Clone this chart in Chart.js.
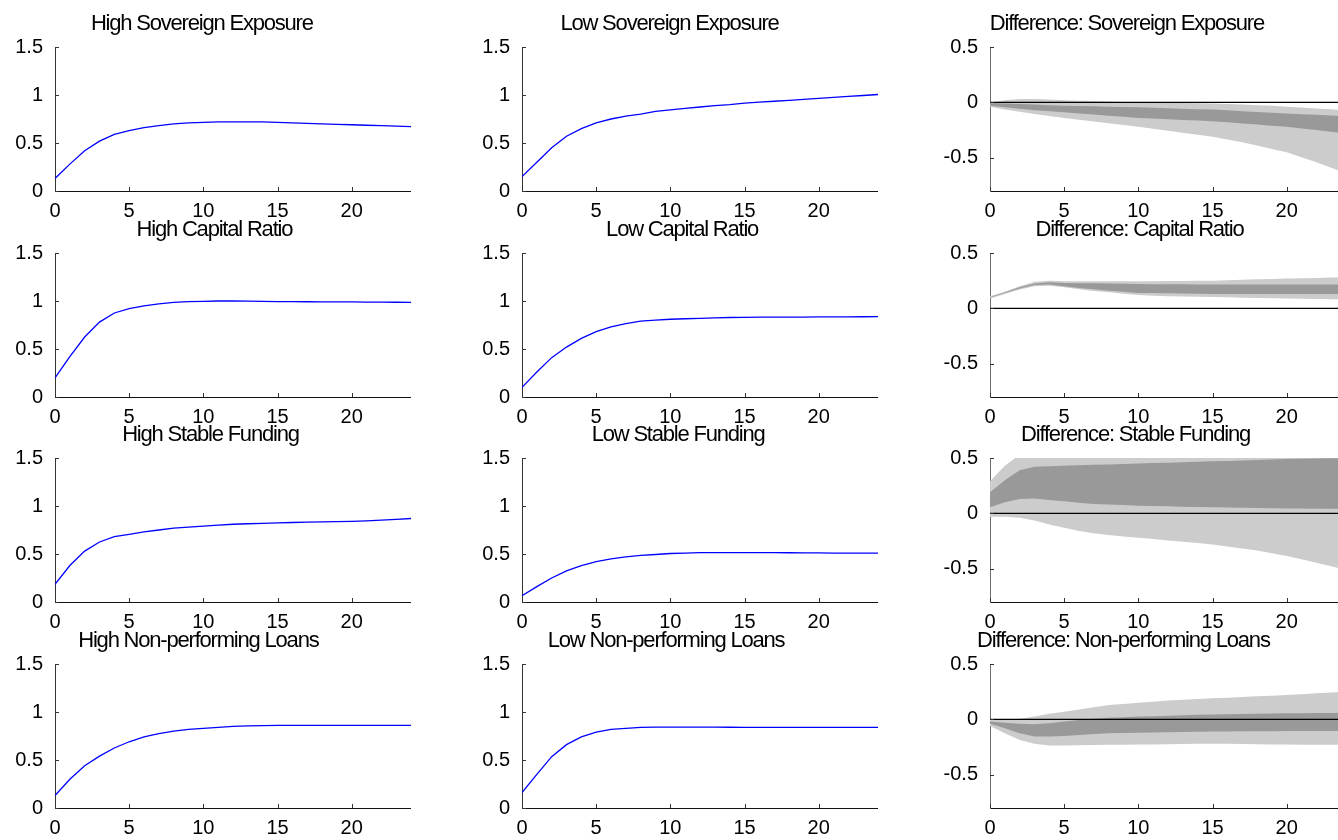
<!DOCTYPE html>
<html>
<head>
<meta charset="utf-8">
<script src="https://cdn.jsdelivr.net/npm/chart.js@4.4.1/dist/chart.umd.min.js"></script>
<style>
  html, body { margin: 0; padding: 0; background: #fff; overflow: hidden; }
  #fig { position: relative; width: 1338px; height: 840px; overflow: hidden; }
  #fig canvas { position: absolute; }
</style>
</head>
<body>
<div id="fig"></div>
<script>
// ── DATA ─────────────────────────────────────────────────────────
const steps  = [0,1,2,3,4,5,6,7,8,9,10,11,12,13,14,15,16,17,18,19,20,21,22,23,24];
const xTicks = [0, 5, 10, 15, 20];
const yTicksLevel = [0, 0.5, 1, 1.5];
const yTicksDiff  = [-0.5, 0, 0.5];

const titlesHigh = ["High Sovereign Exposure", "High Capital Ratio", "High Stable Funding", "High Non-performing Loans"];
const titlesLow  = ["Low Sovereign Exposure", "Low Capital Ratio", "Low Stable Funding", "Low Non-performing Loans"];
const titlesDiff = ["Difference: Sovereign Exposure", "Difference: Capital Ratio", "Difference: Stable Funding", "Difference: Non-performing Loans"];

// impulse responses, high group
const hiSov  = [0.13,0.28,0.42,0.52,0.59,0.63,0.66,0.68,0.70,0.71,0.715,0.72,0.72,0.72,0.72,0.715,0.71,0.705,0.70,0.695,0.69,0.685,0.68,0.675,0.67];
const hiCap  = [0.20,0.42,0.625,0.78,0.875,0.92,0.95,0.97,0.985,0.993,0.997,1.0,1.0,0.998,0.996,0.994,0.993,0.992,0.991,0.99,0.99,0.989,0.988,0.987,0.986];
const hiStab = [0.185,0.38,0.53,0.625,0.68,0.705,0.73,0.75,0.77,0.78,0.79,0.80,0.81,0.815,0.82,0.825,0.828,0.831,0.834,0.837,0.84,0.845,0.852,0.86,0.87];
const hiNpl  = [0.13,0.30,0.44,0.54,0.625,0.69,0.74,0.775,0.80,0.82,0.83,0.84,0.85,0.855,0.858,0.86,0.86,0.86,0.86,0.86,0.86,0.86,0.86,0.86,0.86];

// impulse responses, low group
const loSov  = [0.15,0.30,0.45,0.57,0.65,0.71,0.75,0.78,0.80,0.83,0.845,0.86,0.875,0.89,0.90,0.915,0.925,0.935,0.945,0.955,0.965,0.975,0.985,0.995,1.005];
const loCap  = [0.10,0.26,0.41,0.52,0.61,0.68,0.73,0.765,0.79,0.80,0.81,0.815,0.82,0.825,0.828,0.83,0.831,0.832,0.833,0.833,0.834,0.835,0.835,0.836,0.837];
const loStab = [0.066,0.16,0.25,0.325,0.38,0.42,0.45,0.47,0.485,0.495,0.505,0.51,0.515,0.515,0.515,0.515,0.515,0.514,0.513,0.512,0.511,0.51,0.51,0.51,0.51];
const loNpl  = [0.16,0.35,0.535,0.66,0.74,0.79,0.82,0.83,0.84,0.843,0.843,0.843,0.842,0.842,0.841,0.84,0.84,0.84,0.84,0.84,0.84,0.84,0.84,0.84,0.84];

// difference bands: outer hi / inner hi / inner lo / outer lo
const dSovOutHi = [0.0,0.02,0.03,0.03,0.025,0.02,0.015,0.012,0.008,0.004,0.0,-0.002,-0.004,-0.006,-0.008,-0.01,-0.015,-0.02,-0.025,-0.03,-0.04,-0.047,-0.055,-0.062,-0.07];
const dSovInHi  = [-0.005,-0.01,-0.015,-0.02,-0.025,-0.03,-0.033,-0.036,-0.039,-0.042,-0.045,-0.049,-0.053,-0.057,-0.061,-0.065,-0.072,-0.079,-0.086,-0.093,-0.10,-0.106,-0.112,-0.118,-0.125];
const dSovInLo  = [-0.03,-0.045,-0.058,-0.07,-0.08,-0.09,-0.10,-0.11,-0.12,-0.13,-0.14,-0.146,-0.152,-0.158,-0.164,-0.17,-0.18,-0.19,-0.20,-0.21,-0.22,-0.235,-0.25,-0.265,-0.28];
const dSovOutLo = [-0.04,-0.065,-0.085,-0.105,-0.123,-0.14,-0.156,-0.172,-0.188,-0.204,-0.22,-0.238,-0.256,-0.274,-0.292,-0.31,-0.335,-0.36,-0.39,-0.42,-0.45,-0.495,-0.54,-0.59,-0.64];

const dCapOutHi = [0.11,0.15,0.20,0.24,0.25,0.245,0.245,0.245,0.245,0.245,0.245,0.246,0.247,0.248,0.249,0.25,0.254,0.258,0.262,0.266,0.27,0.272,0.275,0.278,0.28];
const dCapInHi  = [0.10,0.145,0.19,0.225,0.235,0.23,0.228,0.226,0.224,0.222,0.22,0.219,0.218,0.217,0.216,0.215,0.215,0.215,0.215,0.215,0.215,0.215,0.215,0.215,0.215];
const dCapInLo  = [0.095,0.14,0.18,0.21,0.215,0.20,0.185,0.172,0.16,0.15,0.14,0.138,0.136,0.134,0.132,0.13,0.13,0.13,0.13,0.13,0.13,0.13,0.13,0.13,0.13];
const dCapOutLo = [0.09,0.13,0.17,0.20,0.205,0.19,0.172,0.158,0.145,0.132,0.12,0.115,0.11,0.107,0.105,0.103,0.10,0.097,0.094,0.092,0.09,0.087,0.085,0.082,0.08];

const dStabOutHi = [0.29,0.43,0.53,0.56,0.58,0.59,0.60,0.61,0.62,0.63,0.64,0.65,0.66,0.67,0.68,0.69,0.70,0.71,0.72,0.73,0.74,0.75,0.76,0.77,0.78];
const dStabInHi  = [0.19,0.30,0.39,0.42,0.425,0.43,0.434,0.438,0.442,0.446,0.45,0.454,0.458,0.462,0.466,0.47,0.474,0.478,0.482,0.486,0.49,0.493,0.496,0.498,0.50];
const dStabInLo  = [0.055,0.10,0.13,0.135,0.12,0.11,0.095,0.085,0.08,0.075,0.07,0.067,0.064,0.061,0.058,0.055,0.053,0.051,0.049,0.047,0.045,0.044,0.042,0.041,0.04];
const dStabOutLo = [-0.03,-0.03,-0.04,-0.065,-0.10,-0.13,-0.16,-0.18,-0.195,-0.208,-0.22,-0.232,-0.244,-0.256,-0.268,-0.28,-0.298,-0.316,-0.336,-0.36,-0.385,-0.415,-0.445,-0.478,-0.51];

const dNplOutHi = [0.0,0.002,0.005,0.025,0.05,0.07,0.09,0.11,0.13,0.14,0.15,0.16,0.17,0.177,0.184,0.19,0.196,0.202,0.208,0.214,0.22,0.227,0.235,0.242,0.25];
const dNplInHi  = [-0.02,-0.03,-0.04,-0.045,-0.035,-0.02,-0.005,0.005,0.015,0.02,0.025,0.029,0.033,0.037,0.041,0.045,0.047,0.049,0.051,0.053,0.055,0.056,0.057,0.058,0.06];
const dNplInLo  = [-0.04,-0.08,-0.125,-0.155,-0.155,-0.15,-0.14,-0.132,-0.125,-0.122,-0.12,-0.118,-0.116,-0.114,-0.112,-0.11,-0.109,-0.108,-0.107,-0.106,-0.105,-0.105,-0.105,-0.105,-0.105];
const dNplOutLo = [-0.06,-0.125,-0.185,-0.22,-0.235,-0.235,-0.234,-0.232,-0.23,-0.228,-0.227,-0.226,-0.225,-0.223,-0.221,-0.22,-0.221,-0.223,-0.225,-0.226,-0.227,-0.228,-0.229,-0.23,-0.23];

const zeroLevel = 0;

const levelHigh = [hiSov, hiCap, hiStab, hiNpl];
const levelLow  = [loSov, loCap, loStab, loNpl];
const diffBands = [
  [dSovOutHi,  dSovInHi,  dSovInLo,  dSovOutLo],
  [dCapOutHi,  dCapInHi,  dCapInLo,  dCapOutLo],
  [dStabOutHi, dStabInHi, dStabInLo, dStabOutLo],
  [dNplOutHi,  dNplInHi,  dNplInLo,  dNplOutLo],
];

// ── LAYOUT ───────────────────────────────────────────────────────
const FONT   = "'Liberation Sans', Arial, Helvetica, sans-serif";
const colLeft = [0, 467, 935];
const rowTop  = [2, 208, 413, 619];
const AXIS_W = 55, PLOT_W = 356, TOP_PAD = 45, PLOT_H = 144, XAXIS_H = 30;

// panel title, MATLAB-ish: tight letters, sitting a little left of centre
const titlePlugin = {
  id: "panelTitle",
  afterDraw(chart, args, opts) {
    const { ctx, chartArea: a } = chart;
    ctx.save();
    ctx.font = `22px ${FONT}`;
    ctx.letterSpacing = "-1.2px";
    ctx.fillStyle = "#000";
    ctx.textBaseline = "alphabetic";
    ctx.textAlign = "left";
    const w = ctx.measureText(opts.text).width;
    const cx = (a.left + a.right) / 2 + 11;
    ctx.fillText(opts.text, cx - 1.38 * w / 2, a.top - 17);
    ctx.restore();
  },
};

// small tick marks pointing into the plot
const inwardTicks = {
  id: "inwardTicks",
  afterDraw(chart) {
    const { ctx, chartArea: a, scales } = chart;
    ctx.save();
    ctx.lineWidth = 1;
    ctx.strokeStyle = "#333";
    ctx.beginPath();
    scales.x.ticks.forEach(t => {
      const px = Math.round(scales.x.getPixelForValue(t.value)) + 0.5;
      ctx.moveTo(px, a.bottom); ctx.lineTo(px, a.bottom - 4);
    });
    scales.y.ticks.forEach(t => {
      const py = Math.round(scales.y.getPixelForValue(t.value)) + 0.5;
      ctx.moveTo(a.left, py); ctx.lineTo(a.left + 4, py);
    });
    ctx.stroke();
    ctx.restore();
  },
};

function axisOpts(ticks, min, max, isX, borderColor) {
  return {
    type: "linear", min, max,
    afterBuildTicks: s => { s.ticks = ticks.map(v => ({ value: v })); },
    afterFit: s => { if (isX) s.height = XAXIS_H; else s.width = AXIS_W; },
    grid: { display: false, drawTicks: false, tickLength: 0 },
    border: { display: true, color: borderColor, width: 1 },
    ticks: {
      color: "#000", font: { family: FONT, size: 20 },
      padding: isX ? 8 : 12, maxRotation: 0, autoSkip: false,
      callback: v => String(v),
    },
  };
}

function makePanel(col, row, title, datasets, isDiff) {
  const cv = document.createElement("canvas");
  const w = AXIS_W + PLOT_W, h = TOP_PAD + PLOT_H + XAXIS_H;
  cv.width = w; cv.height = h;
  cv.style.left = colLeft[col] + "px";
  cv.style.top  = rowTop[row] + "px";
  cv.style.width = w + "px"; cv.style.height = h + "px";
  document.getElementById("fig").appendChild(cv);

  new Chart(cv, {
    type: "line",
    data: { labels: steps, datasets },
    options: {
      responsive: false,
      animation: false,
      devicePixelRatio: 1,
      layout: { padding: { top: TOP_PAD, left: 0, right: 0, bottom: 0 } },
      elements: { point: { radius: 0 }, line: { tension: 0 } },
      plugins: {
        legend: { display: false },
        tooltip: { enabled: false },
        panelTitle: { text: title },
      },
      scales: {
        x: axisOpts(xTicks, 0, 24, true, "#111"),
        y: isDiff ? axisOpts(yTicksDiff, -0.8, 0.5, false, "#6e6e6e")
                  : axisOpts(yTicksLevel, 0, 1.5, false, "#333"),
      },
    },
    plugins: [titlePlugin, inwardTicks],
  });
}

function levelSet(vals) {
  return [{ data: vals, borderColor: "#0000ff", borderWidth: 1.3, fill: false }];
}

function diffSet(b) {
  const [outHi, inHi, inLo, outLo] = b;
  const band = { borderWidth: 0, borderColor: "rgba(0,0,0,0)" };
  return [
    { ...band, data: outHi, fill: 1, backgroundColor: "#cccccc", order: 3 },
    { ...band, data: outLo, fill: false, order: 3 },
    { ...band, data: inHi,  fill: 3, backgroundColor: "#999999", order: 2 },
    { ...band, data: inLo,  fill: false, order: 2 },
    { data: steps.map(() => zeroLevel), borderColor: "#000", borderWidth: 1.2, fill: false, order: 1 },
  ];
}

// ── BUILD GRID ───────────────────────────────────────────────────
for (let r = 0; r < 4; r++) {
  makePanel(0, r, titlesHigh[r], levelSet(levelHigh[r]), false);
  makePanel(1, r, titlesLow[r],  levelSet(levelLow[r]),  false);
  makePanel(2, r, titlesDiff[r], diffSet(diffBands[r]),  true);
}
</script>
</body>
</html>
